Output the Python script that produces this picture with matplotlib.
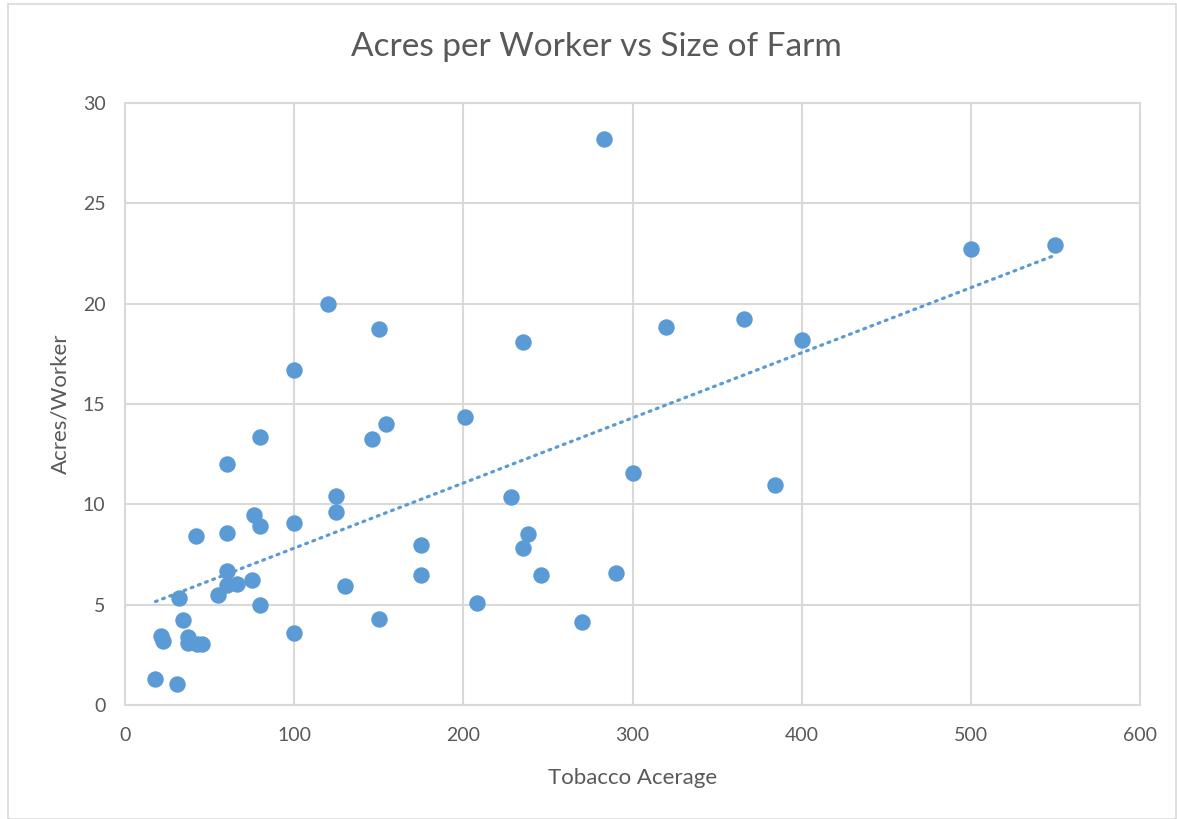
import numpy as np
import matplotlib.pyplot as plt
from matplotlib.patches import Rectangle

plt.rcParams['font.family'] = ['Lato', 'DejaVu Sans']

# Tobacco acreage vs acres per worker
acreage = [18, 31, 21, 22.5, 34, 32, 37, 37, 42.5, 45.5,
           55, 60, 60, 66, 75, 80, 100, 42, 60, 76,
           80, 100, 125, 125, 130, 150, 60, 80, 146, 154,
           201, 300, 384, 228, 175, 175, 238, 235, 246, 290,
           208, 270, 283, 120, 150, 235, 320, 366, 400, 100,
           500, 550]
acres_per_worker = [1.3, 1.03, 3.42, 3.17, 4.24, 5.32, 3.39, 3.07, 3.05, 3.02,
                    5.5, 6.66, 5.96, 6.01, 6.24, 5.0, 3.59, 8.4, 8.57, 9.48,
                    8.9, 9.08, 10.41, 9.62, 5.91, 4.3, 12.0, 13.35, 13.27, 14.02,
                    14.36, 11.55, 10.96, 10.36, 7.96, 6.46, 8.5, 7.84, 6.46, 6.6,
                    5.07, 4.14, 28.2, 20.0, 18.75, 18.1, 18.82, 19.22, 18.19, 16.68,
                    22.74, 22.92]

blue = '#5b9bd5'
grey_text = '#595959'
grid_col = '#d9d9d9'

fig = plt.figure(figsize=(11.77, 8.19), dpi=100)
ax = fig.add_axes([125 / 1177, 1 - 705 / 819, (1140 - 125) / 1177, (705 - 103) / 819])

# chart border
fig.patches.append(Rectangle((8 / 1177, 0), 1 - 9 / 1177, 1 - 4 / 819,
                             transform=fig.transFigure, fill=False,
                             edgecolor=grid_col, linewidth=1.2))

ax.scatter(acreage, acres_per_worker, s=140, color=blue, zorder=3, linewidths=0)

# linear trendline like Excel
x = np.array(acreage)
y = np.array(acres_per_worker)
slope, intercept = np.polyfit(x, y, 1)
xs = np.array([x.min(), x.max()])
ax.plot(xs, slope * xs + intercept, color=blue, linewidth=2.3,
        linestyle=(0, (0.6, 1.8)), dash_capstyle='round', zorder=2)

ax.set_xlim(0, 600)
ax.set_ylim(0, 30)
ax.set_xticks(range(0, 601, 100))
ax.set_yticks(range(0, 31, 5))
ax.grid(True, color=grid_col, linewidth=1.5, zorder=0)
ax.set_axisbelow(True)
for s in ax.spines.values():
    s.set_color(grid_col)
    s.set_linewidth(1.5)
ax.tick_params(length=0, labelsize=14, colors=grey_text)
ax.tick_params(axis='x', pad=16)
ax.tick_params(axis='y', pad=14)

ax.set_xlabel('Tobacco Acerage', fontsize=16, color=grey_text, labelpad=17)
ax.set_ylabel('Acres/Worker', fontsize=16, color=grey_text, labelpad=9)
fig.text(596 / 1177, 1 - 47 / 819, 'Acres per Worker vs Size of Farm',
         ha='center', va='center', fontsize=24, color=grey_text)

fig.savefig('out.png', dpi=100)
